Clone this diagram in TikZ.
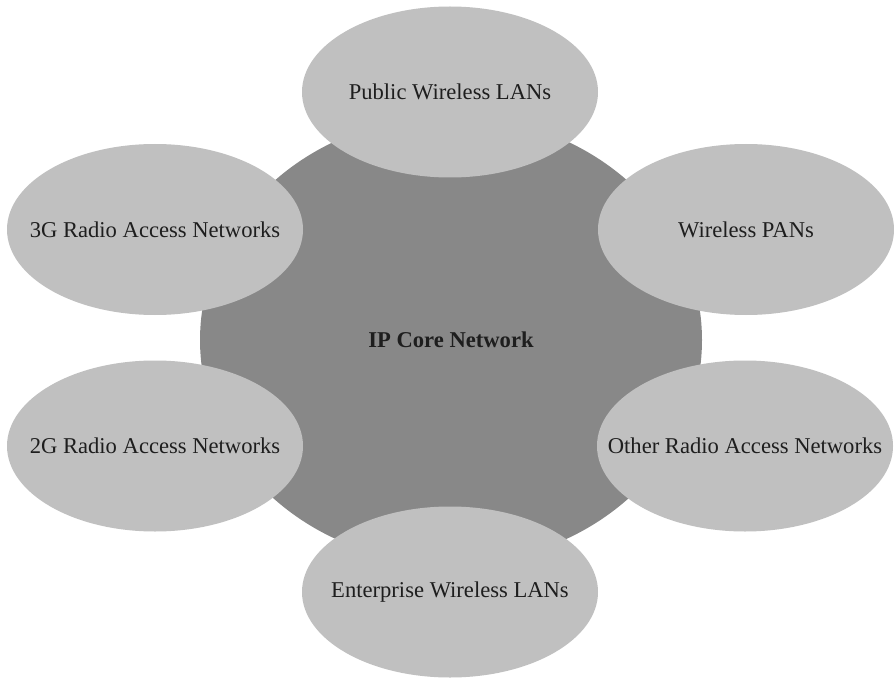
\documentclass[tikz,border=0pt]{standalone}
\usepackage{fontspec}
\setmainfont{Liberation Serif}
\usetikzlibrary{shapes.geometric}
\definecolor{coregray}{HTML}{888888}
\definecolor{accessgray}{HTML}{C0C0C0}
\definecolor{inkgray}{HTML}{1E1E1E}
\begin{document}
\begin{tikzpicture}[x=1pt,y=-1pt,
  core/.style={ellipse, fill=coregray, draw=none, inner sep=0pt,
    minimum width=502pt, minimum height=448pt},
  access/.style={ellipse, fill=accessgray, draw=none, inner sep=0pt,
    minimum width=296pt, minimum height=171pt},
  caption/.style={text=inkgray, inner sep=0pt,
    font=\fontsize{22.6}{27}\selectfont},
  ]
\useasboundingbox[fill=white] (0,0) rectangle (894,679);

% core network behind the access networks
\node[core, label={[caption, font=\fontsize{22.6}{27}\selectfont\bfseries]center:IP Core Network}] (core) at (451,340) {};

% access networks around the core
\node[access, label={[caption]center:Public Wireless LANs}] (pwlan) at (450,92) {};
\node[access, label={[caption]center:3G Radio Access Networks}] (ran3g) at (155,229.5) {};
\node[access, label={[caption]center:Wireless PANs}] (wpan) at (746,229.5) {};
\node[access, label={[caption]center:2G Radio Access Networks}] (ran2g) at (155,446) {};
\node[access, label={[caption]center:Other Radio Access Networks}] (oran) at (745,446) {};
\node[access, label={[caption]center:Enterprise Wireless LANs}] (ewlan) at (450,592) {};
\end{tikzpicture}
\end{document}
